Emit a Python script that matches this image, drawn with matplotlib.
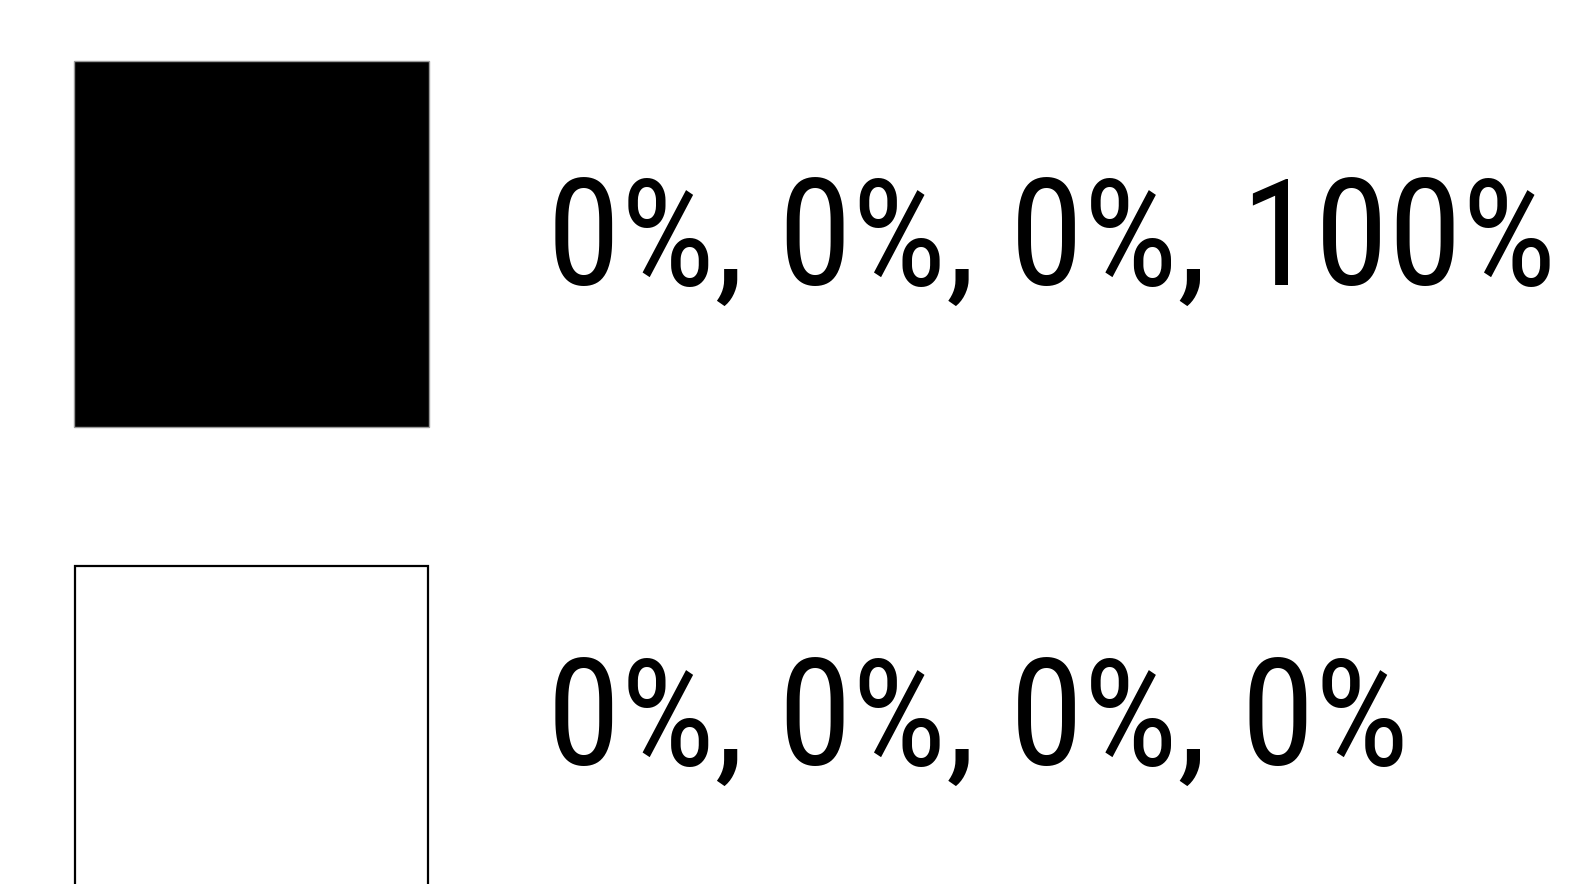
import matplotlib
matplotlib.use("Agg")
import matplotlib.pyplot as plt
from matplotlib import font_manager
from matplotlib.patches import Rectangle

# Data: CMYK swatches
swatch_names = ["Black", "White"]
cyan = [0, 0]
magenta = [0, 0]
yellow = [0, 0]
key = [100, 0]
fill_colors = ["#000000", "#ffffff"]
edge_colors = ["#9a9a9a", "#000000"]
labels = [f"{c}%, {m}%, {y}%, {k}%" for c, m, y, k in zip(cyan, magenta, yellow, key)]

W, H = 1579, 884
DPI = 100

available = {f.name for f in font_manager.fontManager.ttflist}
family = "DejaVu Sans"
for cand in ["Liberation Sans Narrow", "DejaVu Sans Condensed", "Roboto Condensed",
             "Open Sans Condensed", "Noto Sans", "Liberation Sans"]:
    if cand in available:
        family = cand
        break

fig = plt.figure(figsize=(W / DPI, H / DPI), dpi=DPI)
ax = fig.add_axes([0, 0, 1, 1])
ax.set_xlim(0, W)
ax.set_ylim(H, 0)
ax.axis("off")

# swatch geometry (pixels)
sq_x = [74, 75]
sq_w = [355, 353]
sq_y = [61, 566]
sq_h = [366, 366]
lw = [1.0, 1.6]
text_x = 547
text_center = [232, 712]
target_width = 1008

for i in range(len(swatch_names)):
    ax.add_patch(Rectangle((sq_x[i], sq_y[i]), sq_w[i], sq_h[i],
                           facecolor=fill_colors[i], edgecolor=edge_colors[i],
                           linewidth=lw[i], clip_on=False))

renderer = fig.canvas.get_renderer()
# size text so the first label matches the reference width
probe = ax.text(0, 0, labels[0], fontsize=100, family=family)
wpx = probe.get_window_extent(renderer).width
probe.remove()
fs = 100 * target_width / wpx
cap = 0.72 * fs * DPI / 72

for i, lab in enumerate(labels):
    ax.text(text_x, text_center[i] + cap / 2, lab, fontsize=fs, family=family,
            color="black", ha="left", va="baseline")

fig.savefig("out.png", dpi=DPI, facecolor="white")
